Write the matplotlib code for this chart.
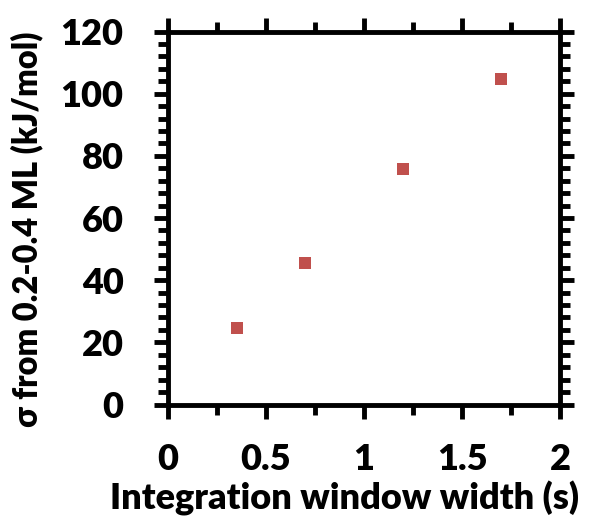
import matplotlib
matplotlib.use("Agg")
import matplotlib.pyplot as plt
from matplotlib.ticker import MultipleLocator, FuncFormatter

x_vals = [0.35, 0.7, 1.2, 1.7]
y_vals = [24.5, 45.5, 75.8, 104.8]
x_label = "Integration window width (s)"
y_label = "σ from 0.2-0.4 ML (kJ/mol)"

plt.rcParams['font.family'] = ['Lato', 'DejaVu Sans']
plt.rcParams['font.weight'] = 'bold'

W, H = 589, 516
fig = plt.figure(figsize=(W/100, H/100), dpi=100)
ax = fig.add_axes([168/W, 1-404.5/H, (560-168)/W, (404.5-31.5)/H])
ax.plot(x_vals, y_vals, 's', color='#C0504D', markersize=9, markeredgewidth=0)
ax.set_xlim(0, 2)
ax.set_ylim(0, 120)
ax.xaxis.set_major_locator(MultipleLocator(0.5))
ax.xaxis.set_minor_locator(MultipleLocator(0.25))
ax.yaxis.set_major_locator(MultipleLocator(20))
ax.yaxis.set_minor_locator(MultipleLocator(4))
ax.xaxis.set_major_formatter(FuncFormatter(lambda v, p: '%g' % v))
for s in ax.spines.values():
    s.set_linewidth(3.5)
ax.tick_params(which='major', direction='out', length=10, width=3.5, top=True, right=True,
               labelsize=26, labeltop=False, labelright=False)
ax.tick_params(axis='x', which='major', pad=18)
ax.tick_params(axis='y', which='major', pad=22)
ax.tick_params(which='minor', direction='out', length=7, width=3.5, top=True, right=True)
for lab in ax.get_yticklabels() + ax.get_xticklabels():
    lab.set_fontweight('heavy')
ax.set_xlabel(x_label, fontsize=26, fontweight='heavy')
ax.xaxis.set_label_coords((344-168)/392, -(510-404.5)/373, transform=ax.transAxes)
ax.xaxis.label.set_va('baseline')
ax.set_ylabel(y_label, fontsize=23.5, fontweight='heavy')
ax.yaxis.set_label_coords(-(168-27)/392, (404.5-229.5)/373, transform=ax.transAxes)
ax.yaxis.label.set_va('center')
fig.savefig("out.png", dpi=100)
